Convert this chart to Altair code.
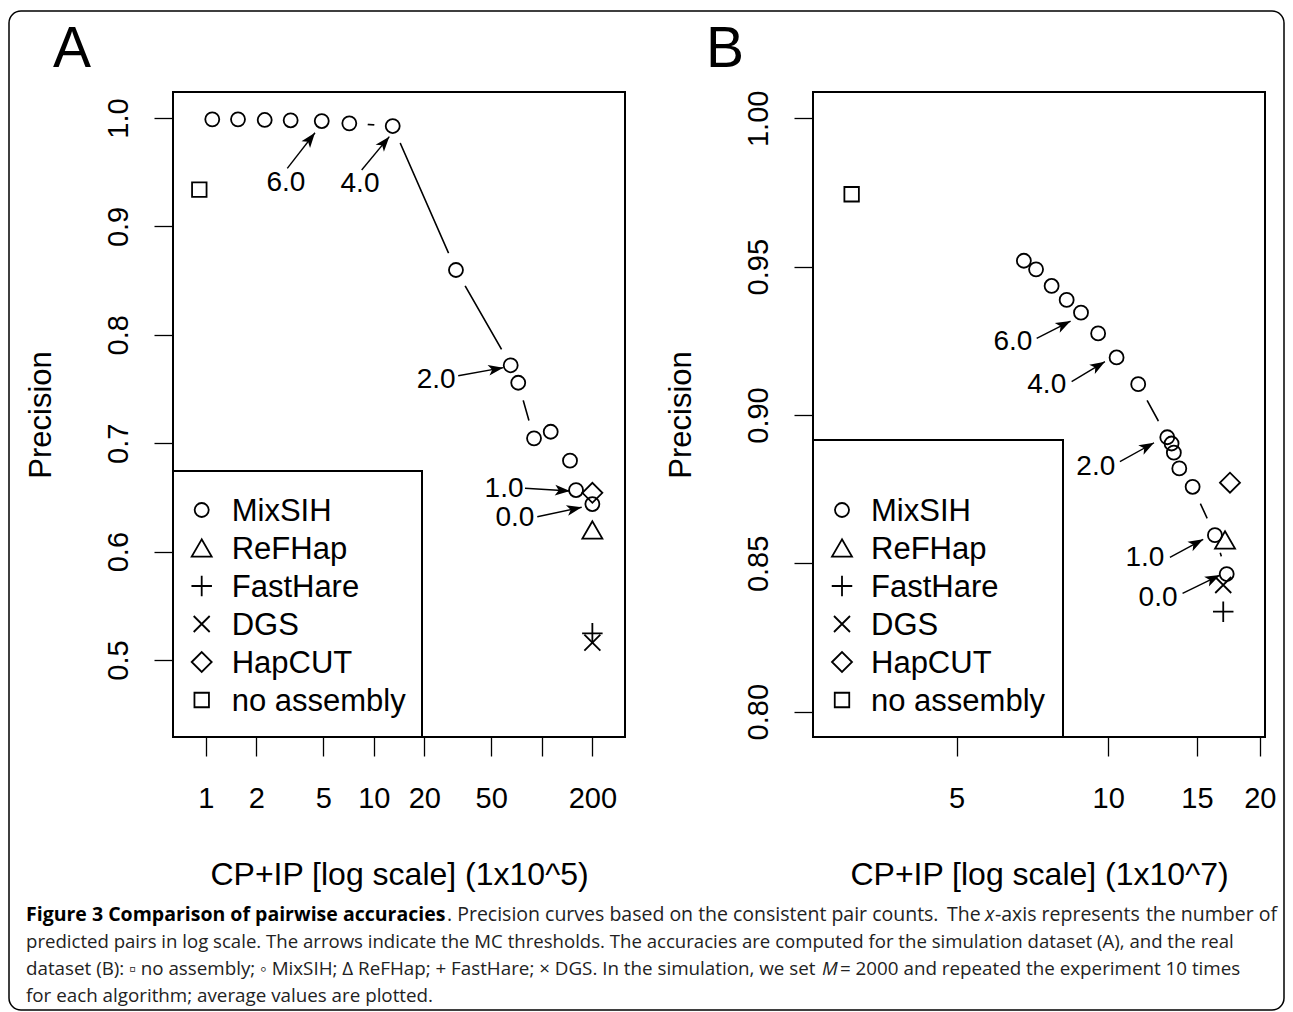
import math
import altair as alt
import pandas as pd

# ---------------- layout constants ----------------
W, H = 452, 645
FONT = "Liberation Sans"
CAPFONT = "Open Sans"

ALGOS = ["MixSIH", "ReFHap", "FastHare", "DGS", "HapCUT", "no assembly"]
PLUS = "M-1,0L1,0M0,-1L0,1"
XMARK = "M-1,-1L1,1M-1,1L1,-1"
ARROW = "M0,0L-1,-0.36L-0.75,0L-1,0.36Z"

# ---------------- panel A data (x in 1e5) ----------------
a_mix_x = [1.093, 1.555, 2.242, 3.20, 4.90, 7.15, 12.96, 30.84, 65.3, 72.4, 89.9, 113.0, 147.2, 159.9, 200.0]
a_mix_y = [0.9988, 0.9988, 0.9982, 0.9979, 0.9972, 0.9951, 0.9926, 0.8598, 0.7719, 0.7558, 0.7045, 0.7106, 0.6839, 0.6568, 0.6439]
a_other_algo = ["ReFHap", "FastHare", "DGS", "HapCUT", "no assembly"]
a_other_x = [200.0, 200.0, 200.0, 200.0, 0.915]
a_other_y = [0.620, 0.5246, 0.516, 0.6543, 0.934]
a_thr = ["6.0", "4.0", "2.0", "1.0", "0.0"]
a_arrow_x0 = [3.055, 8.47, 31.8, 79.4, 94.0]
a_arrow_y0 = [0.9536, 0.952, 0.7623, 0.6584, 0.6322]
a_arrow_x1 = [4.467, 12.37, 59.0, 147.2, 172.8]
a_arrow_y1 = [0.9864, 0.9828, 0.7697, 0.6559, 0.6409]
a_label_x = [3.00, 8.28, 23.5, 59.6, 69.2]
a_label_y = [0.941, 0.940, 0.7592, 0.6591, 0.6319]
a_xdom = [0.638, 312.8]
a_ydom = [0.429, 1.024]
a_xticks = [1, 2, 5, 10, 20, 50, 100, 200]
a_yticks = [0.5, 0.6, 0.7, 0.8, 0.9, 1.0]

# ---------------- panel B data (x in 1e7) ----------------
b_mix_x = [6.80, 7.19, 7.72, 8.27, 8.83, 9.55, 10.39, 11.47, 13.10, 13.36, 13.50, 13.84, 14.71, 16.29, 17.19]
b_mix_y = [0.9520, 0.9491, 0.9435, 0.9388, 0.9345, 0.9275, 0.9194, 0.9104, 0.8925, 0.8904, 0.8873, 0.8820, 0.8758, 0.8595, 0.8464]
b_other_algo = ["ReFHap", "FastHare", "DGS", "HapCUT", "no assembly"]
b_other_x = [17.06, 16.92, 16.92, 17.45, 3.094]
b_other_y = [0.8579, 0.8337, 0.8427, 0.8772, 0.9744]
b_thr = ["6.0", "4.0", "2.0", "1.0", "0.0"]
b_arrow_x0 = [7.21, 8.46, 10.55, 13.26, 14.05]
b_arrow_y0 = [0.92584, 0.91122, 0.88425, 0.85203, 0.83989]
b_arrow_x1 = [8.42, 9.85, 12.33, 15.44, 16.67]
b_arrow_y1 = [0.93168, 0.91796, 0.89065, 0.85809, 0.84606]
b_label_x = [6.47, 7.55, 9.45, 11.83, 12.56]
b_label_y = [0.92493, 0.91044, 0.8828, 0.85222, 0.83864]
b_xdom = [2.593, 20.48]
b_ydom = [0.79147, 1.00887]
b_xticks = [5, 10, 15, 20]
b_yticks = [0.80, 0.85, 0.90, 0.95, 1.00]

shape_scale = alt.Scale(type="ordinal", domain=ALGOS,
                        range=["circle", "triangle-up", PLUS, XMARK, "diamond", "square"])
size_scale = alt.Scale(type="ordinal", domain=ALGOS, range=[196, 400, 420, 256, 400, 210])


def arrow_angles(x0, y0, x1, y1, xdom, ydom):
    lx0, lx1 = math.log10(xdom[0]), math.log10(xdom[1])

    def px(v):
        return W * (math.log10(v) - lx0) / (lx1 - lx0)

    def py(v):
        return H * (1 - (v - ydom[0]) / (ydom[1] - ydom[0]))

    out = []
    for a, b, c, d in zip(x0, y0, x1, y1):
        ang = math.degrees(math.atan2(py(d) - py(b), px(c) - px(a)))
        out.append(ang % 360)
    return out


def panel(mix_x, mix_y, oth_algo, oth_x, oth_y, thr, ax0, ay0, ax1, ay1, lx, ly,
          xdom, ydom, xticks, yticks, yfmt, xtitle, letter, letter_x, leg_top, leg_right,
          leg_sym_x, leg_txt_x, xlabel_expr):
    xs = alt.Scale(type="log", domain=xdom, nice=False, zero=False)
    ys = alt.Scale(domain=ydom, nice=False, zero=False)
    xax = alt.Axis(values=xticks, labelExpr=xlabel_expr, tickSize=19, tickWidth=1.3,
                   tickColor="black", domain=False, grid=False, labelFontSize=29,
                   labelFont=FONT, labelColor="black", labelBaseline="top", labelPadding=28,
                   labelAlign="center", labelFlush=False, labelOverlap=False,
                   title=xtitle, titleFontSize=32, titleFont=FONT, titleFontWeight="normal",
                   titleColor="black", titleY=147, titleBaseline="alphabetic")
    yax = alt.Axis(values=yticks, format=yfmt, tickSize=19, tickWidth=1.3, tickColor="black",
                   domain=False, grid=False, labelFontSize=29, labelFont=FONT,
                   labelColor="black", labelAngle=270, labelAlign="center",
                   labelBaseline="alphabetic", labelPadding=27, labelFlush=False,
                   labelOverlap=False, title="Precision", titleFontSize=31, titleFont=FONT,
                   titleFontWeight="normal", titleColor="black", titleAngle=270,
                   titleX=-123, titleY=H / 2, titleAlign="center", titleBaseline="alphabetic")

    mix = pd.DataFrame({"x": mix_x, "y": mix_y, "algo": "MixSIH"})
    oth = pd.DataFrame({"x": oth_x, "y": oth_y, "algo": oth_algo})
    pts = pd.concat([mix, oth], ignore_index=True)
    arr = pd.DataFrame({"x0": ax0, "y0": ay0, "x1": ax1, "y1": ay1, "thr": thr,
                        "ang": arrow_angles(ax0, ay0, ax1, ay1, xdom, ydom)})
    lab = pd.DataFrame({"x": lx, "y": ly, "thr": thr})
    leg = pd.DataFrame({"algo": ALGOS, "i": list(range(len(ALGOS)))})
    one = pd.DataFrame({"k": [0]})

    X = alt.X("x:Q", scale=xs, axis=xax)
    Y = alt.Y("y:Q", scale=ys, axis=yax)

    line = alt.Chart(mix).mark_line(color="black", strokeWidth=1.6).encode(x=X, y=Y)
    halo = alt.Chart(mix).mark_point(shape="circle", filled=True, color="white", opacity=1,
                                     size=1369).encode(x=alt.X("x:Q", scale=xs), y=alt.Y("y:Q", scale=ys))
    syms = alt.Chart(pts).mark_point(filled=False, color="black", strokeWidth=1.8, opacity=1).encode(
        x=alt.X("x:Q", scale=xs), y=alt.Y("y:Q", scale=ys),
        shape=alt.Shape("algo:N", scale=shape_scale, legend=None),
        size=alt.Size("algo:N", scale=size_scale, legend=None))
    rules = alt.Chart(arr).mark_rule(color="black", strokeWidth=1.4).encode(
        x=alt.X("x0:Q", scale=xs), y=alt.Y("y0:Q", scale=ys), x2="x1:Q", y2="y1:Q")
    heads = alt.Chart(arr).mark_point(shape=ARROW, filled=True, color="black", opacity=1,
                                      size=900, strokeWidth=0).encode(
        x=alt.X("x1:Q", scale=xs), y=alt.Y("y1:Q", scale=ys), angle=alt.Angle("ang:Q", scale=None))
    labels = alt.Chart(lab).mark_text(font=FONT, fontSize=28, color="black", align="center",
                                      baseline="middle", dy=1).encode(
        x=alt.X("x:Q", scale=xs), y=alt.Y("y:Q", scale=ys), text="thr:N")

    legbox = alt.Chart(one).mark_rect(fill="white", stroke="black", strokeWidth=2).encode(
        x=alt.value(0), x2=alt.value(leg_right), y=alt.value(leg_top), y2=alt.value(H))
    legsym = alt.Chart(leg).transform_calculate(py="418 + 38*datum.i").mark_point(
        filled=False, color="black", strokeWidth=1.8, opacity=1).encode(
        x=alt.value(leg_sym_x), y=alt.Y("py:Q", scale=None, axis=None),
        shape=alt.Shape("algo:N", scale=shape_scale, legend=None),
        size=alt.Size("algo:N", scale=size_scale, legend=None))
    legtxt = alt.Chart(leg).transform_calculate(py="418 + 38*datum.i").mark_text(
        font=FONT, fontSize=31, color="black", align="left", baseline="alphabetic", dy=11).encode(
        x=alt.value(leg_txt_x), y=alt.Y("py:Q", scale=None, axis=None), text="algo:N")

    box = alt.Chart(one).mark_rect(fillOpacity=0, stroke="black", strokeWidth=2).encode(
        x=alt.value(0), x2=alt.value(W), y=alt.value(0), y2=alt.value(H))

    let = alt.Chart(one).mark_text(text=letter, font=FONT, fontSize=57, color="black",
                                   align="left", baseline="alphabetic").encode(
        x=alt.value(letter_x), y=alt.value(-25))

    return [line, halo, syms, rules, heads, labels, legbox, legsym, legtxt, box, let]


layers_a = panel(a_mix_x, a_mix_y, a_other_algo, a_other_x, a_other_y, a_thr,
                 a_arrow_x0, a_arrow_y0, a_arrow_x1, a_arrow_y1, a_label_x, a_label_y,
                 a_xdom, a_ydom, a_xticks, a_yticks, ".1f", "CP+IP [log scale] (1x10^5)",
                 "A", -120, 379, 249, 28.7, 58.7,
                 "datum.value == 100 ? '' : format(datum.value, '~g')")
layers_b = panel(b_mix_x, b_mix_y, b_other_algo, b_other_x, b_other_y, b_thr,
                 b_arrow_x0, b_arrow_y0, b_arrow_x1, b_arrow_y1, b_label_x, b_label_y,
                 b_xdom, b_ydom, b_xticks, b_yticks, ".2f", "CP+IP [log scale] (1x10^7)",
                 "B", -107, 348, 250, 29, 58,
                 "format(datum.value, '~g')")

# ---------------- caption and frame (page coords offset by plot origin 173, 92) ----------------
OX, OY = 173, 92
cap_text = [
    "Figure 3 Comparison of pairwise accuracies",
    ". Precision curves based on the",
    "consistent pair counts.",
    "The",
    "x",
    "-axis represents",
    "the number of",
    "predicted pairs in log scale. The arrows indicate the MC thresholds. The accuracies are computed for the simulation dataset (A), and the real",
    "dataset (B): \u25ab no assembly; \u25e6 MixSIH; \u0394 ReFHap; + FastHare; \u00d7 DGS. In the simulation, we set",
    "M",
    "= 2000 and repeated the experiment 10 times",
    "for each algorithm; average values are plotted.",
]
cap_x = [26, 447, 733, 947, 985, 995, 1277, 26, 26, 822, 840, 26]
cap_y = [921, 921, 921, 921, 921, 921, 921, 948, 975, 975, 975, 1002]
cap_align = ["left"] * 6 + ["right"] + ["left"] * 5
cap_weight = ["bold"] + ["normal"] * 11
cap_style = ["normal"] * 4 + ["italic"] + ["normal"] * 4 + ["italic"] + ["normal"] * 2
cap_size = [19.5, 19.5, 19.5, 19.5, 19.5, 19.5, 19.5, 18.6, 18.8, 18.8, 18.8, 18.8]

one = pd.DataFrame({"k": [0]})
caption = []
for t, cx, cy, al, fw, fs, sz in zip(cap_text, cap_x, cap_y, cap_align, cap_weight, cap_style, cap_size):
    caption.append(alt.Chart(one).mark_text(
        text=t, font=CAPFONT, fontSize=sz, fontWeight=fw,
        fontStyle=fs, color="black" if fw == "bold" else "#222222",
        align=al, baseline="alphabetic").encode(x=alt.value(cx - OX), y=alt.value(cy - OY)))

frame = alt.Chart(one).mark_rect(fillOpacity=0, stroke="black", strokeWidth=1.5, cornerRadius=12).encode(
    x=alt.value(9 - OX), x2=alt.value(1284 - OX), y=alt.value(11 - OY), y2=alt.value(1010 - OY))

chart_a = alt.layer(*layers_a, *caption, frame).properties(width=W, height=H)
chart_b = alt.layer(*layers_b).properties(width=W, height=H)

chart = alt.hconcat(chart_a, chart_b, spacing=188, bounds="flush").properties(
    padding={"left": 0, "top": 2, "right": 0, "bottom": 0}
).configure(font=FONT).configure_view(stroke=None, strokeWidth=0)

chart.save("out.html", embed_options={"renderer": "svg", "actions": False})
